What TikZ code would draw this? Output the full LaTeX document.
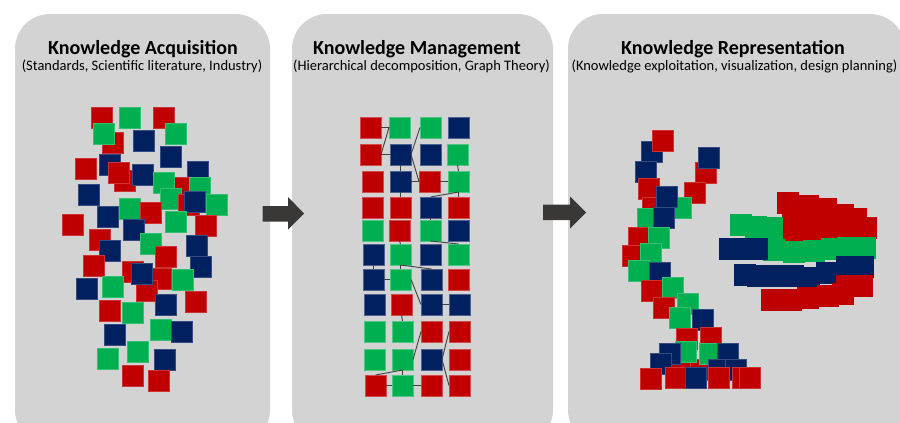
\documentclass[tikz,border=0pt]{standalone}
\usepackage{fontspec}
\setmainfont{Carlito}
\definecolor{kred}{HTML}{C00000}
\definecolor{kgreen}{HTML}{00B050}
\definecolor{knavy}{HTML}{002060}
\definecolor{panelgray}{HTML}{D3D3D3}
\definecolor{arrowgray}{HTML}{3A3837}
\definecolor{linkgray}{HTML}{404040}
\tikzset{
  blk/.style={fill=#1, draw=#1!80!white, line width=0.5pt},
  cell/.style={rectangle, anchor=north west, minimum size=21pt, inner sep=0pt, outer sep=0pt,
               fill=#1, draw=#1!70!white, line width=0.5pt},
  link/.style={draw=linkgray, line width=0.9pt},
  panel/.style={fill=panelgray, rounded corners=35pt},
  flow/.style={fill=arrowgray},
  heading/.style={anchor=base, font=\fontsize{20}{22}\selectfont\bfseries},
  subheading/.style={anchor=base, font=\fontsize{14.5}{16}\selectfont},
}
% loose squares drawn directly by their top-left corner
\newcommand\sqR[2]{\filldraw[blk=kred] (#1,#2) rectangle ++(21,21);}
\newcommand\sqG[2]{\filldraw[blk=kgreen] (#1,#2) rectangle ++(21,21);}
\newcommand\sqN[2]{\filldraw[blk=knavy] (#1,#2) rectangle ++(21,21);}
\begin{document}
\begin{tikzpicture}[x=1pt,y=-1pt]
\useasboundingbox (0,0) rectangle (900,423);
\clip (0,0) rectangle (900,423);
\fill[white] (0,0) rectangle (900,423);

% three stage panels
\path[panel] (15,14) rectangle (270,445);
\path[panel] (292,14) rectangle (553,445);
\path[panel] (568,14) rectangle (905,445);

% block arrows between the stages
\fill[flow] (262.5,206) -- (288,206) -- (288,197) -- (304,213.5) -- (288,229.5) -- (288,221.5) -- (262.5,221.5) -- cycle;
\fill[flow] (543,204.5) -- (570,204.5) -- (570,196.5) -- (586,212.5) -- (570,228.5) -- (570,220) -- (543,220) -- cycle;

% headings
\node[heading] (h1) at (143,54) {Knowledge Acquisition};
\node[subheading] (s1) at (142,70) {(Standards, Scientific literature, Industry)};
\node[heading] (h2) at (417,54) {Knowledge Management};
\node[subheading] (s2) at (421.5,70) {(Hierarchical decomposition, Graph Theory)};
\node[heading] (h3) at (733,54) {Knowledge Representation};
\node[subheading] (s3) at (734.5,70) {(Knowledge exploitation, visualization, design planning)};

% ---- acquisition: scattered pieces of knowledge
\sqR{91}{107} \sqG{119}{107} \sqR{153}{107}
\sqR{102}{132} \sqG{93}{123} \sqN{133}{130} \sqG{165}{123}
\sqN{160}{146} \sqR{75}{158} \sqN{99}{154}
\sqR{114}{170} \sqR{108}{162} \sqN{132}{164} \sqN{187}{161}
\sqR{168}{177} \sqG{153}{172} \sqG{189}{177} \sqG{160}{188}
\sqR{178}{194} \sqN{184}{191} \sqG{206}{194}
\sqN{78}{184} \sqN{97}{206} \sqG{119}{198} \sqR{140}{202}
\sqG{165}{211} \sqR{195}{215} \sqR{62}{214} \sqN{123}{219}
\sqR{89}{229} \sqN{99}{240} \sqG{140}{233} \sqR{155}{246}
\sqN{186}{235} \sqN{190}{256} \sqR{83}{255}
\sqR{122}{261} \sqR{150}{268} \sqR{136}{280} \sqN{131}{263}
\sqG{172}{269} \sqN{76}{278} \sqG{102}{276}
\sqN{155}{294} \sqR{185}{291} \sqR{99}{300} \sqG{122}{302}
\sqN{104}{324} \sqG{150}{319} \sqN{171}{321}
\sqG{97}{348} \sqG{127}{341} \sqN{154}{349}
\sqR{122}{365} \sqR{148}{370}

% ---- management: ordered grid with relations
\foreach \c/\x [count=\k] in {kred/360, kgreen/389, kgreen/420, knavy/448}
  \node[cell=\c] (m-1-\k) at (\x,117) {};
\foreach \c/\x [count=\k] in {kred/360, knavy/390, knavy/420, kgreen/447}
  \node[cell=\c] (m-2-\k) at (\x,144) {};
\foreach \c/\x [count=\k] in {kred/362, knavy/390, kred/419, kgreen/448}
  \node[cell=\c] (m-3-\k) at (\x,171) {};
\foreach \c/\x [count=\k] in {kred/362, kred/390, knavy/420, kred/448}
  \node[cell=\c] (m-4-\k) at (\x,197) {};
\foreach \c/\x [count=\k] in {kgreen/362, kred/389, kgreen/420, knavy/448}
  \node[cell=\c] (m-5-\k) at (\x,220) {};
\foreach \c/\x [count=\k] in {knavy/363, kgreen/390, knavy/420, kgreen/448}
  \node[cell=\c] (m-6-\k) at (\x,244) {};
\foreach \c/\x [count=\k] in {knavy/363, kgreen/390, knavy/421, kred/448}
  \node[cell=\c] (m-7-\k) at (\x,269) {};
\foreach \c/\x [count=\k] in {knavy/364, kred/391, knavy/421, knavy/449}
  \node[cell=\c] (m-8-\k) at (\x,294) {};
\foreach \c/\x [count=\k] in {kgreen/364, kgreen/392, kred/421, kred/449}
  \node[cell=\c] (m-9-\k) at (\x,321) {};
\foreach \c/\x [count=\k] in {kgreen/364, kgreen/392, knavy/421, kred/449}
  \node[cell=\c] (m-10-\k) at (\x,349) {};
\foreach \c/\x [count=\k] in {kred/365, kgreen/392, kred/421, kred/449}
  \node[cell=\c] (m-11-\k) at (\x,375) {};

\begin{scope}[link]
  \draw (m-1-1.east) -- (m-1-2.west) -- (m-2-1.east) -- (m-2-2.west);
  \draw (m-1-3.west) -- (m-2-2.east) -- (m-3-3.west);
  \draw (m-2-2.south) -- (m-3-2.north);
  \draw (m-3-2.east) -- (m-3-3.west);
  \draw (m-3-3.east) -- (m-3-4.west);
  \draw (m-2-4.south) -- (m-3-4.north);
  \draw (m-3-4.south) -- (m-4-4.north);
  \draw (m-3-4.south) -- (m-4-3.north);
  \draw (m-3-2.south) -- (m-4-2.north);
  \draw (m-4-3.south) -- (m-5-3.north);
  \draw (m-5-3.south) -- (m-6-4.north);
  \draw (m-5-2.south) -- (m-6-2.north);
  \draw (m-6-1.south) -- (m-7-1.north);
  \draw (m-6-2.south) -- (m-7-3.north);
  \draw (m-6-2.south) -- (m-7-2.north);
  \draw (m-7-1.east) -- (m-7-2.west);
  \draw (m-7-2.east) -- (m-8-3.west);
  \draw (m-8-3.east) -- (m-8-4.west);
  \draw (m-8-2.south) -- (m-9-2.north);
  \draw (m-9-3.west) -- (m-10-2.east);
  \draw (m-9-4.west) -- (m-10-3.east) -- (m-11-4.west);
  \draw (m-10-2.south) -- (m-11-1.north);
  \draw (m-10-2.south) -- (m-11-2.north);
  \draw (m-11-1.east) -- (m-11-2.west);
  \draw (m-11-2.east) -- (m-11-3.west);
\end{scope}

% ---- representation: left chain of stacked pieces
\sqN{641}{141} \sqR{652}{130} \sqR{695}{162} \sqN{698}{147}
\sqN{635}{161} \sqR{638}{178} \sqR{642}{197} \sqR{684}{182}
\sqG{670}{197} \sqN{656}{186} \sqG{637}{208} \sqN{653}{207}
\sqR{628}{227} \sqG{648}{227} \sqR{622}{245} \sqG{640}{243}
\sqG{628}{260} \sqN{649}{262} \sqR{641}{280} \sqG{662}{277}
\sqR{653}{297} \sqG{677}{293} \sqG{669}{307} \sqN{692}{309}
\sqR{676}{328} \sqR{700}{327} \sqR{671}{359} \sqR{690}{359}
\sqG{675}{341} \sqN{659}{343} \sqN{650}{353} \sqG{699}{343}
\sqN{717}{343} \sqN{708}{359} \sqN{725}{359}
\sqR{640}{368} \sqR{665}{367} \sqN{685}{367} \sqR{708}{367}
\sqR{732}{367} \sqR{739}{367}

% ---- representation: right layered cluster (pieces fused into bands)
\begin{scope}
\tikzset{blk/.style={fill=#1, draw=#1, line width=0.5pt}}
\sqR{777}{192} \sqR{797}{195} \sqR{815}{198} \sqR{832}{204}
\sqR{845}{208} \sqR{855}{217}
\sqR{782}{213} \sqR{800}{216} \sqR{818}{220} \sqR{834}{222}
\sqR{782}{226} \sqR{800}{226} \sqR{816}{226}
\sqG{730}{214} \sqG{745}{216} \sqG{761}{217}
\sqG{763}{239} \sqG{783}{241} \sqG{803}{240} \sqG{821}{238}
\sqG{837}{237} \sqG{854}{237}
\sqN{719}{238} \sqN{733}{238} \sqN{746}{238}
\sqN{734}{264} \sqN{747}{265} \sqN{762}{265} \sqN{782}{265}
\sqN{798}{267} \sqN{816}{262} \sqN{836}{256} \sqN{852}{256}
\sqR{761}{289} \sqR{780}{289} \sqR{797}{287} \sqR{817}{285}
\sqR{832}{283} \sqR{836}{275} \sqR{851}{275}
\end{scope}
\end{tikzpicture}
\end{document}
